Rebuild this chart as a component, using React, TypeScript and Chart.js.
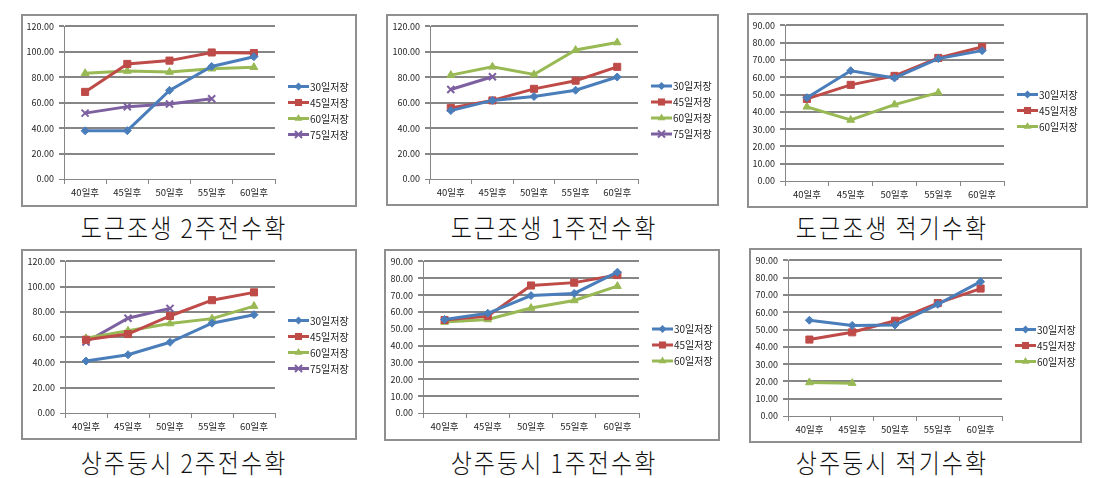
import React, { useEffect, useRef } from 'react';
import { Chart, registerables } from 'chart.js';

Chart.register(...registerables);

// ---------- data ----------
const categories = ['40일후', '45일후', '50일후', '55일후', '60일후'];
const seriesLabels = ['30일저장', '45일저장', '60일저장', '75일저장'];

// 도근조생 2주전수확
const dg2w_30 = [37.9, 38.0, 69.7, 88.5, 96.2];
const dg2w_45 = [68.5, 90.5, 93.1, 99.5, 99.0];
const dg2w_60 = [83.1, 84.9, 84.1, 86.7, 87.9];
const dg2w_75 = [51.8, 56.9, 59.0, 63.1, null];

// 도근조생 1주전수확
const dg1w_30 = [53.8, 61.8, 64.9, 69.8, 80.2];
const dg1w_45 = [55.9, 61.8, 70.9, 77.3, 88.2];
const dg1w_60 = [81.7, 88.2, 82.2, 101.4, 107.3];
const dg1w_75 = [70.4, 80.4, null, null, null];

// 도근조생 적기수확
const dgOpt_30 = [48.2, 63.8, 59.6, 70.8, 75.4];
const dgOpt_45 = [47.5, 55.6, 60.8, 71.2, 77.5];
const dgOpt_60 = [42.9, 35.3, 44.2, 51.1, null];

// 상주둥시 2주전수확
const sj2w_30 = [41.1, 46.1, 56.0, 71.1, 77.8];
const sj2w_45 = [58.0, 62.5, 76.8, 89.3, 95.5];
const sj2w_60 = [59.1, 65.1, 70.8, 74.7, 84.6];
const sj2w_75 = [56.2, 75.0, 82.8, null, null];

// 상주둥시 1주전수확
const sj1w_30 = [55.5, 59.2, 69.7, 71.0, 83.6];
const sj1w_45 = [55.2, 57.5, 75.7, 77.4, 81.9];
const sj1w_60 = [54.0, 55.5, 62.3, 66.8, 75.3];

// 상주둥시 적기수확
const sjOpt_30 = [55.4, 52.4, 52.6, 64.6, 77.7];
const sjOpt_45 = [44.2, 48.4, 55.1, 65.3, 73.7];
const sjOpt_60 = [19.4, 19.0, null, null, null];

const titles = [
  '도근조생 2주전수확',
  '도근조생 1주전수확',
  '도근조생 적기수확',
  '상주둥시 2주전수확',
  '상주둥시 1주전수확',
  '상주둥시 적기수확',
];

// ---------- styles ----------
const COLORS = ['#4A7EBB', '#BE4B48', '#98B954', '#7D60A0'];
const MARKERS = ['rectRot', 'rect', 'triangle', 'crossRot'];
const MARKER_R = [4, 5, 4.5, 5];
const GRID = '#868686';
const TEXT = '#1e1e1e';
const FONT = "'Noto Sans CJK KR', 'Noto Sans', sans-serif";

type PanelCfg = {
  title: string;
  box: [number, number, number, number]; // L, T, R, B (outer border)
  plot: [number, number, number, number]; // left, top, right, bottom
  yMax: number;
  yStep: number;
  series: (number | null)[][];
  captionX: number;
  captionY: number;
};

const panels: PanelCfg[] = [
  { title: titles[0], box: [21, 14, 357, 207], plot: [64, 23, 275, 179], yMax: 120, yStep: 20, series: [dg2w_30, dg2w_45, dg2w_60, dg2w_75], captionX: 184, captionY: 227 },
  { title: titles[1], box: [386, 14, 719, 206], plot: [430, 24, 638, 179], yMax: 120, yStep: 20, series: [dg1w_30, dg1w_45, dg1w_60, dg1w_75], captionX: 554, captionY: 227 },
  { title: titles[2], box: [747, 13, 1088, 208], plot: [785, 23, 1004, 181], yMax: 90, yStep: 10, series: [dgOpt_30, dgOpt_45, dgOpt_60], captionX: 892, captionY: 227 },
  { title: titles[3], box: [21, 249, 357, 440], plot: [65, 259, 275, 413], yMax: 120, yStep: 20, series: [sj2w_30, sj2w_45, sj2w_60, sj2w_75], captionX: 184, captionY: 462 },
  { title: titles[4], box: [384, 249, 720, 441], plot: [423, 258, 639, 413], yMax: 90, yStep: 10, series: [sj1w_30, sj1w_45, sj1w_60], captionX: 554, captionY: 462 },
  { title: titles[5], box: [749, 248, 1082, 443], plot: [788, 257, 1002, 416], yMax: 90, yStep: 10, series: [sjOpt_30, sjOpt_45, sjOpt_60], captionX: 892, captionY: 462 },
];

const BORDER = 2;

function drawMarker(ctx: CanvasRenderingContext2D, style: string, x: number, y: number, r: number, color: string) {
  ctx.save();
  ctx.fillStyle = color;
  ctx.strokeStyle = color;
  ctx.beginPath();
  if (style === 'rectRot') {
    ctx.moveTo(x, y - r);
    ctx.lineTo(x + r, y);
    ctx.lineTo(x, y + r);
    ctx.lineTo(x - r, y);
    ctx.closePath();
    ctx.fill();
  } else if (style === 'rect') {
    const s = r * Math.SQRT1_2;
    ctx.rect(x - s, y - s, 2 * s, 2 * s);
    ctx.fill();
  } else if (style === 'triangle') {
    ctx.moveTo(x, y - r);
    ctx.lineTo(x + r * 0.866, y + r * 0.5);
    ctx.lineTo(x - r * 0.866, y + r * 0.5);
    ctx.closePath();
    ctx.fill();
  } else {
    const d = r * Math.SQRT1_2;
    ctx.lineWidth = 2;
    ctx.moveTo(x - d, y - d);
    ctx.lineTo(x + d, y + d);
    ctx.moveTo(x + d, y - d);
    ctx.lineTo(x - d, y + d);
    ctx.stroke();
  }
  ctx.restore();
}

const legendPlugin = {
  id: 'excelLegend',
  afterDraw(chart: any) {
    const { ctx, chartArea } = chart;
    const ds = chart.data.datasets;
    const n = ds.length;
    const cy = chart.height / 2;
    const gap = 16;
    const y0 = cy - ((n - 1) * gap) / 2;
    ctx.save();
    ds.forEach((d: any, i: number) => {
      const y = y0 + i * gap;
      const x0 = chartArea.right + 13;
      ctx.strokeStyle = d.borderColor;
      ctx.lineWidth = 3;
      ctx.beginPath();
      ctx.moveTo(x0, y);
      ctx.lineTo(x0 + 21, y);
      ctx.stroke();
      drawMarker(ctx, MARKERS[i], x0 + 10.5, y, MARKER_R[i], d.borderColor);
      ctx.fillStyle = TEXT;
      ctx.font = `10px ${FONT}`;
      ctx.textBaseline = 'middle';
      ctx.textAlign = 'left';
      ctx.fillText(d.label, x0 + 22, y + 0.5);
    });
    ctx.restore();
  },
};

function Panel({ cfg }: { cfg: PanelCfg }) {
  const ref = useRef<HTMLCanvasElement>(null);
  const [L, T, R, B] = cfg.box;
  const cx = L + BORDER;
  const cy = T + BORDER;
  const cw = R - L - 2 * BORDER;
  const ch = B - T - 2 * BORDER;

  useEffect(() => {
    if (!ref.current) return;
    const [pl, pt, pr, pb] = cfg.plot;
    const chart = new Chart(ref.current, {
      type: 'line',
      data: {
        labels: categories,
        datasets: cfg.series.map((vals, i) => ({
          label: seriesLabels[i],
          data: vals,
          borderColor: COLORS[i],
          backgroundColor: COLORS[i],
          borderWidth: 3,
          pointStyle: MARKERS[i] as any,
          pointRadius: MARKER_R[i],
          pointBorderWidth: i === 3 ? 2 : 1,
          pointBackgroundColor: COLORS[i],
          pointBorderColor: COLORS[i],
          tension: 0,
          spanGaps: false,
          fill: false,
        })),
      },
      options: {
        responsive: false,
        animation: false,
        events: [],
        layout: {
          padding: { top: pt - cy, right: cx + cw - pr, left: 0, bottom: 0 },
        },
        plugins: {
          legend: { display: false },
          tooltip: { enabled: false },
          title: { display: false },
        },
        scales: {
          x: {
            type: 'category',
            offset: true,
            grid: {
              offset: true,
              drawOnChartArea: false,
              drawTicks: true,
              tickLength: 5,
              color: GRID,
              lineWidth: 1,
            },
            border: { display: true, color: GRID, width: 1 },
            ticks: {
              color: TEXT,
              font: { family: FONT, size: 9.5 },
              padding: 3,
              maxRotation: 0,
              autoSkip: false,
            },
            afterFit(scale: any) {
              scale.height = cy + ch - pb;
            },
          },
          y: {
            min: 0,
            max: cfg.yMax,
            grid: {
              color: GRID,
              lineWidth: (c: any) => (c.tick && c.tick.value === 0 ? 1 : 2),
              drawTicks: true,
              tickLength: 5,
            },
            border: { display: true, color: GRID, width: 1 },
            ticks: {
              stepSize: cfg.yStep,
              color: TEXT,
              font: { family: FONT, size: 9 },
              padding: 5,
              callback: (v: any) => Number(v).toFixed(2),
            },
            afterFit(scale: any) {
              scale.width = pl - cx;
            },
          },
        },
      },
      plugins: [legendPlugin],
    } as any);
    return () => chart.destroy();
  }, [cfg]);

  return (
    <>
      <div
        style={{
          position: 'absolute',
          left: L,
          top: T,
          width: R - L,
          height: B - T,
          boxSizing: 'border-box',
          border: `${BORDER}px solid #8f8f8f`,
          background: '#fff',
        }}
      >
        <canvas ref={ref} width={cw} height={ch} style={{ display: 'block', width: cw, height: ch }} />
      </div>
      <div
        style={{
          position: 'absolute',
          left: cfg.captionX - 150,
          top: cfg.captionY - 14,
          width: 300,
          height: 28,
          lineHeight: '28px',
          textAlign: 'center',
          fontFamily: FONT,
          fontSize: 23,
          fontWeight: 300,
          letterSpacing: 2,
          color: '#111',
          whiteSpace: 'pre',
          transform: 'scaleY(1.12)',
        }}
      >
        {cfg.title}
      </div>
    </>
  );
}

export default function App() {
  return (
    <div style={{ position: 'absolute', left: 0, top: 0, width: 1117, height: 478, background: '#fff', overflow: 'hidden' }}>
      {panels.map((p, i) => (
        <Panel key={i} cfg={p} />
      ))}
    </div>
  );
}
